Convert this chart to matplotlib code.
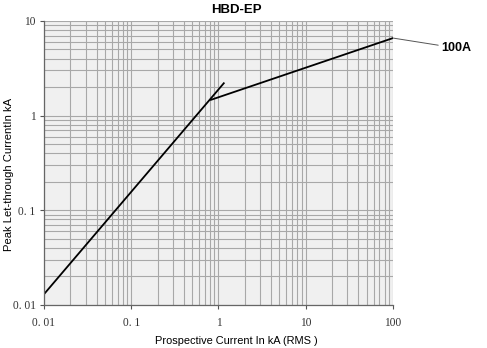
import matplotlib.pyplot as plt
from matplotlib.ticker import FixedLocator, LogLocator, NullFormatter

# curve (kA)
steep_x = [0.01, 1.15]
steep_y = [0.013, 2.2]
flat_x = [0.82, 100]
flat_y = [1.47, 6.6]

xticks = [0.01, 0.1, 1, 10, 100]
xlabels = ["0. 01", "0. 1", "1", "10", "100"]
yticks = [0.01, 0.1, 1, 10]
ylabels = ["0. 01", "0. 1", "1", "10"]

fig = plt.figure(figsize=(4.87, 3.48), dpi=100)
ax = fig.add_axes([0.0903, 0.1236, 0.7167, 0.8161])
ax.set_facecolor("#f0f0f0")
ax.set_xscale("log")
ax.set_yscale("log")
ax.set_xlim(0.01, 100)
ax.set_ylim(0.01, 10)

ax.plot(steep_x, steep_y, color="black", lw=1.3)
ax.plot(flat_x, flat_y, color="black", lw=1.3)

ax.xaxis.set_major_locator(FixedLocator(xticks))
ax.yaxis.set_major_locator(FixedLocator(yticks))
ax.set_xticklabels(xlabels, family="Liberation Serif", fontsize=8.3, color="#333333")
ax.set_yticklabels(ylabels, family="Liberation Serif", fontsize=8.3, color="#333333")
ax.xaxis.set_minor_locator(LogLocator(base=10, subs=range(2, 10)))
ax.yaxis.set_minor_locator(LogLocator(base=10, subs=range(2, 10)))
ax.xaxis.set_minor_formatter(NullFormatter())
ax.yaxis.set_minor_formatter(NullFormatter())
ax.tick_params(which="major", length=3, width=0.8, color="#555555")
ax.tick_params(axis="x", which="major", pad=6)
ax.tick_params(axis="y", which="major", pad=3)
ax.tick_params(which="minor", length=0)
ax.grid(True, which="both", color="#a8a8a8", lw=0.8)
ax.set_axisbelow(True)

for side in ["top", "right"]:
    ax.spines[side].set_visible(False)
for side in ["left", "bottom"]:
    ax.spines[side].set_color("#666666")
    ax.spines[side].set_linewidth(0.9)

fig.text(236 / 487, 1 - 10 / 348, "HBD-EP", fontsize=9.5, fontweight="bold",
         family="Liberation Sans", ha="center", va="center")
fig.text(236 / 487, 1 - 341 / 348, "Prospective Current In kA (RMS )",
         fontsize=7.9, family="Liberation Sans", ha="center", va="center")
fig.text(9 / 487, 1 - 174 / 348, "Peak Let-through CurrentIn kA", rotation=90,
         fontsize=8.1, family="Liberation Sans", ha="center", va="center")

ax.annotate("100A", xy=(100, 6.6), xytext=(441 / 487, 1 - 48 / 348),
            textcoords="figure fraction", fontsize=9, fontweight="bold",
            family="Liberation Sans", va="center", ha="left",
            arrowprops=dict(arrowstyle="-", color="#555555", lw=0.7, shrinkA=0, shrinkB=0),
            annotation_clip=False)

fig.savefig("out.png", dpi=100)
